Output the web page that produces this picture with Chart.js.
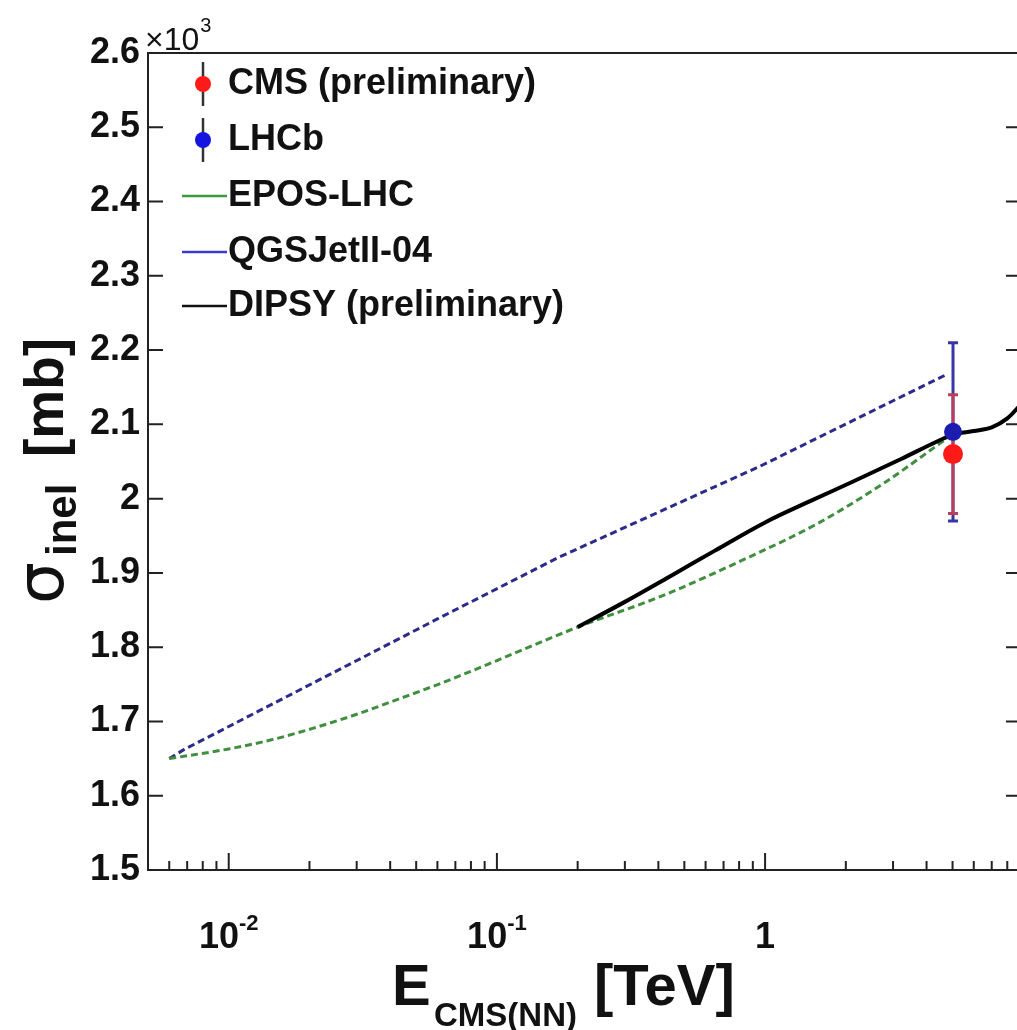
<!DOCTYPE html>
<html>
<head>
<meta charset="utf-8">
<title>sigma_inel pPb</title>
<script src="https://cdn.jsdelivr.net/npm/chart.js@4.4.0/dist/chart.umd.min.js"></script>
<style>
    html, body { margin: 0; padding: 0; background: #fff; overflow: hidden; }
    #wrap { width: 1045px; height: 1030px; position: relative; }
</style>
</head>
<body>
<div id="wrap"><canvas id="grafico-sigma"></canvas></div>
<script>
// energia em TeV, secao de choque em mb
const cmsX = [5.02];
const cmsY = [2060];
const cmsErr = [80];

const lhcbX = [5.02];
const lhcbY = [2090];
const lhcbErr = [120];

const eposX = [0.006, 0.01, 0.0147, 0.0207, 0.0302, 0.0436, 0.0615, 0.1, 0.2, 0.406, 0.88, 1.56, 2.75, 4.8];
const eposY = [1650, 1663, 1676, 1691, 1710, 1731, 1751, 1782, 1827, 1868, 1922, 1966, 2020, 2082];

const qgsX = [0.006, 0.0068, 0.06, 0.17, 0.95, 4.8];
const qgsY = [1650, 1662, 1838, 1921, 2043, 2168];

const dipsyX = [0.2, 0.3, 0.45, 0.65, 1.0, 1.5, 2.1, 3.2, 4.5, 5.0, 6.0, 7.0, 8.0, 9.0];
const dipsyY = [1827, 1861, 1897, 1930, 1968, 1998, 2022, 2053, 2079, 2086, 2091, 2096, 2108, 2127];

const xTickValues = [0.01, 0.1, 1];
const xTickLabels = [['10', '-2'], ['10', '-1'], ['1', '']];

const legendLabels = ['CMS (preliminary)', 'LHCb', 'EPOS-LHC', 'QGSJetII-04', 'DIPSY (preliminary)'];

const FONTE = '"Liberation Sans", Arial, Helvetica, sans-serif';

function pontos(xs, ys) {
    return xs.map((x, i) => ({ x: x, y: ys[i] }));
}

// barras de erro desenhadas antes dos pontos
const barrasErro = {
    id: 'barrasErro',
    beforeDatasetsDraw(chart) {
        const c = chart.ctx;
        const sx = chart.scales.x, sy = chart.scales.y;
        function barra(x, y, e, cor) {
            const px = sx.getPixelForValue(x);
            const y1 = sy.getPixelForValue(y + e);
            const y2 = sy.getPixelForValue(y - e);
            c.save();
            c.strokeStyle = cor;
            c.lineWidth = 3;
            c.beginPath();
            c.moveTo(px, y1); c.lineTo(px, y2);
            c.moveTo(px - 5, y1); c.lineTo(px + 5, y1);
            c.moveTo(px - 5, y2); c.lineTo(px + 5, y2);
            c.stroke();
            c.restore();
        }
        lhcbX.forEach((x, i) => barra(x, lhcbY[i], lhcbErr[i], '#3636a8'));
        cmsX.forEach((x, i) => barra(x, cmsY[i], cmsErr[i], '#b8405c'));
    }
};

// moldura, ticks, rotulos, titulos e legenda
const moldura = {
    id: 'moldura',
    afterDraw(chart) {
        const c = chart.ctx;
        const a = chart.chartArea;
        const sx = chart.scales.x, sy = chart.scales.y;
        c.save();
        c.strokeStyle = '#222';
        c.lineWidth = 2;
        c.strokeRect(a.left, a.top, a.right - a.left, a.bottom - a.top);

        // ticks do eixo y (esquerda e direita)
        c.beginPath();
        sy.ticks.forEach(t => {
            const py = sy.getPixelForValue(t.value);
            c.moveTo(a.left, py); c.lineTo(a.left + 15, py);
            c.moveTo(a.right, py); c.lineTo(a.right - 15, py);
        });
        // ticks do eixo x, maiores e menores
        for (let d = -3; d <= 0; d++) {
            for (let m = 1; m <= 9; m++) {
                const v = m * Math.pow(10, d);
                if (v < sx.min || v > sx.max) continue;
                const px = sx.getPixelForValue(v);
                const len = (m === 1) ? 17 : 9;
                c.moveTo(px, a.bottom); c.lineTo(px, a.bottom - len);
            }
        }
        c.stroke();

        // rotulos do eixo x com expoente
        c.fillStyle = '#111';
        c.textBaseline = 'alphabetic';
        c.textAlign = 'left';
        xTickValues.forEach((v, i) => {
            const px = sx.getPixelForValue(v);
            const base = xTickLabels[i][0], exp = xTickLabels[i][1];
            c.font = 'bold 36px ' + FONTE;
            const w1 = c.measureText(base).width;
            c.font = 'bold 22px ' + FONTE;
            const w2 = exp ? c.measureText(exp).width : 0;
            const x0 = px - (w1 + w2) / 2;
            c.font = 'bold 36px ' + FONTE;
            c.fillText(base, x0, 948);
            if (exp) {
                c.font = 'bold 22px ' + FONTE;
                c.fillText(exp, x0 + w1, 930);
            }
        });

        // titulo do eixo x
        c.font = 'bold 58px ' + FONTE;
        c.fillText('E', 392, 1005);
        c.font = 'bold 33px ' + FONTE;
        c.fillText('CMS(NN)', 434, 1026);
        c.font = 'bold 58px ' + FONTE;
        c.fillText('[TeV]', 594, 1005);

        // titulo do eixo y (rotacionado)
        c.save();
        c.translate(63, 606);
        c.rotate(-Math.PI / 2);
        c.font = '66px "DejaVu Sans", ' + FONTE;
        c.fillText('σ', 2, 0);
        c.font = 'bold 42px ' + FONTE;
        c.fillText('inel', 50, 13);
        c.font = 'bold 55px ' + FONTE;
        c.fillText('[mb]', 149, 0);
        c.restore();

        // multiplicador x10^3
        c.font = '32px ' + FONTE;
        c.fillText('×10', 145, 50);
        const wX = c.measureText('×10').width;
        c.font = '20px ' + FONTE;
        c.fillText('3', 145 + wX + 1, 32);

        // legenda
        const ly = [84, 140, 196, 252, 306];
        c.font = 'bold 36px ' + FONTE;
        c.textBaseline = 'middle';
        legendLabels.forEach((txt, i) => c.fillText(txt, 228, ly[i]));
        c.lineWidth = 2.5;
        [[0, '#ff1a1a'], [1, '#1515e0']].forEach(([i, cor]) => {
            c.strokeStyle = '#333';
            c.beginPath();
            c.moveTo(203, ly[i] - 22); c.lineTo(203, ly[i] + 22);
            c.stroke();
            c.fillStyle = cor;
            c.beginPath();
            c.arc(203, ly[i], 8, 0, Math.PI * 2);
            c.fill();
        });
        [[2, '#3c9c3c'], [3, '#3a3acc'], [4, '#111']].forEach(([i, cor]) => {
            c.strokeStyle = cor;
            c.beginPath();
            c.moveTo(182, ly[i]); c.lineTo(227, ly[i]);
            c.stroke();
        });
        c.restore();
    }
};

const ctx = document.getElementById('grafico-sigma').getContext('2d');

const grafico = new Chart(ctx, {
    type: 'scatter',
    data: {
        datasets: [
            {
                label: legendLabels[1],
                data: pontos(lhcbX, lhcbY),
                pointRadius: 9,
                backgroundColor: '#1c1cb0',
                borderWidth: 0,
                order: 0
            },
            {
                label: legendLabels[0],
                data: pontos(cmsX, cmsY),
                pointRadius: 10,
                backgroundColor: '#ff1a1a',
                borderWidth: 0,
                order: 1
            },
            {
                label: legendLabels[4],
                data: pontos(dipsyX, dipsyY),
                showLine: true,
                borderColor: '#000',
                borderWidth: 4,
                pointRadius: 0,
                cubicInterpolationMode: 'monotone',
                order: 2
            },
            {
                label: legendLabels[2],
                data: pontos(eposX, eposY),
                showLine: true,
                borderColor: '#3f8f3f',
                borderWidth: 3,
                borderDash: [7, 4],
                pointRadius: 0,
                cubicInterpolationMode: 'monotone',
                order: 3
            },
            {
                label: legendLabels[3],
                data: pontos(qgsX, qgsY),
                showLine: true,
                borderColor: '#2b2b8c',
                borderWidth: 3,
                borderDash: [7, 4],
                pointRadius: 0,
                tension: 0,
                order: 4
            }
        ]
    },
    options: {
        responsive: true,
        maintainAspectRatio: false,
        animation: false,
        layout: { padding: { top: 53, right: 24, left: 0, bottom: 0 } },
        plugins: {
            legend: { display: false },
            tooltip: { enabled: false }
        },
        scales: {
            x: {
                type: 'logarithmic',
                min: 0.005,
                max: 9,
                ticks: { display: false },
                grid: { display: false, drawTicks: false },
                border: { display: false },
                afterFit(s) { s.height = 160; }
            },
            y: {
                min: 1500,
                max: 2600,
                ticks: {
                    stepSize: 100,
                    padding: 8,
                    color: '#111',
                    font: { family: FONTE, size: 36, weight: 'bold' },
                    callback: function(v) {
                        const s = v / 1000;
                        return Math.abs(s - 2) < 1e-9 ? '2' : s.toFixed(1);
                    }
                },
                grid: { display: false, drawTicks: false },
                border: { display: false },
                afterFit(s) { s.width = 148; }
            }
        }
    },
    plugins: [barrasErro, moldura]
});
</script>
</body>
</html>
